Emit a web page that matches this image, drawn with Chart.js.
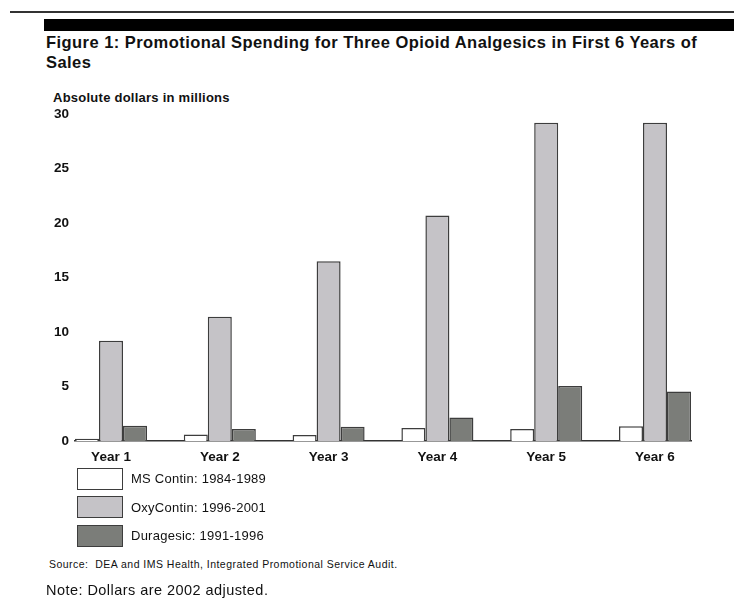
<!DOCTYPE html>
<html>
<head>
<meta charset="utf-8">
<script src="https://cdn.jsdelivr.net/npm/chart.js@4.4.1/dist/chart.umd.min.js"></script>
<style>
  body { margin: 0; background: #fff; font-family: "Liberation Sans", Arial, sans-serif; color: #111; }
  #page { position: relative; width: 734px; height: 602px; overflow: hidden; }
  .abs { position: absolute; white-space: nowrap; }
  #rule { left: 10px; top: 11px; width: 724px; height: 1.5px; background: #333; }
  #band { left: 44px; top: 19px; width: 690px; height: 12px; background: #000; }
  #title { left: 46px; top: 32px; font-weight: bold; font-size: 16.5px; letter-spacing: 0.45px; line-height: 20px; }
  #caption { left: 53px; top: 90px; font-weight: bold; font-size: 13px; letter-spacing: 0.25px; }
  #chartBox { left: 0; top: 100px; width: 734px; height: 380px; }
  #legend { left: 77px; top: 464.5px; }
  .item { display: flex; align-items: center; height: 28.5px; font-size: 13px; letter-spacing: 0.25px; }
  .swatch { width: 44px; height: 20px; border: 1.5px solid #3d3d3d; margin-right: 8px; }
  #source { left: 49px; top: 558px; font-size: 10.5px; letter-spacing: 0.47px; }
  #note { left: 46px; top: 582px; font-size: 14.5px; letter-spacing: 0.45px; }
</style>
</head>
<body>
<div id="page">
  <div class="abs" id="rule"></div>
  <div class="abs" id="band"></div>
  <div class="abs" id="title">Figure 1: Promotional Spending for Three Opioid Analgesics in First 6 Years of<br>Sales</div>
  <div class="abs" id="caption">Absolute dollars in millions</div>
  <div class="abs" id="chartBox"><canvas id="chart"></canvas></div>
  <div class="abs" id="legend"></div>
  <div class="abs" id="source">Source:&nbsp; DEA and IMS Health, Integrated Promotional Service Audit.</div>
  <div class="abs" id="note">Note: Dollars are 2002 adjusted.</div>
</div>
<script>
// categories and series
const yearLabels = ["Year 1", "Year 2", "Year 3", "Year 4", "Year 5", "Year 6"]
const seriesNames = ["MS Contin: 1984-1989", "OxyContin: 1996-2001", "Duragesic: 1991-1996"]
const msContin = [0.2, 0.6, 0.55, 1.2, 1.1, 1.35]
const oxyContin = [9.2, 11.4, 16.5, 20.7, 29.2, 29.2]
const duragesic = [1.4, 1.1, 1.3, 2.15, 5.05, 4.55]
const yTicks = [0, 5, 10, 15, 20, 25, 30]

const seriesColors = ["#ffffff", "#c5c3c7", "#7b7d79"]
const edgeColor = "#3d3d3d"

// bars sit on a linear x scale so the groups touch the ends of the axis line
function toPoints(values) {
  return values.map((v, i) => ({ x: i, y: v }))
}

const allSeries = [msContin, oxyContin, duragesic]
const tickFont = { family: "Liberation Sans", size: 13.5, weight: "bold" }

new Chart(document.getElementById("chart"), {
  type: "bar",
  data: {
    datasets: allSeries.map((values, i) => ({
      label: seriesNames[i],
      data: toPoints(values),
      backgroundColor: seriesColors[i],
      borderColor: edgeColor,
      borderWidth: 1.5,
      barPercentage: 1,
      categoryPercentage: 0.662
    }))
  },
  options: {
    responsive: true,
    maintainAspectRatio: false,
    animation: false,
    layout: { padding: { left: 30, right: 43, top: 13, bottom: 4 } },
    plugins: {
      legend: { display: false },
      tooltip: { enabled: false },
      title: { display: false }
    },
    scales: {
      x: {
        type: "linear",
        min: -0.331,
        max: 5.331,
        offset: false,
        grid: { display: false },
        border: { display: true, color: "#333", width: 1.5 },
        ticks: {
          stepSize: 1,
          includeBounds: false,
          autoSkip: false,
          maxRotation: 0,
          padding: 0,
          color: "#111",
          font: tickFont,
          callback: (v) => yearLabels[v] ?? ""
        },
        afterFit: (s) => { s.height = 35 }
      },
      y: {
        min: yTicks[0],
        max: yTicks[yTicks.length - 1],
        grid: { display: false, drawTicks: false },
        border: { display: false },
        afterBuildTicks: (s) => { s.ticks = yTicks.map((v) => ({ value: v })) },
        ticks: {
          padding: 6,
          color: "#111",
          font: tickFont
        },
        afterFit: (s) => { s.width = 45 }
      }
    }
  }
})

// legend, one row per series
const legend = document.getElementById("legend")
legend.innerHTML = seriesNames
  .map((name, i) => `
    <div class="item">
      <div class="swatch" style="background:${seriesColors[i]}"></div>
      <span>${name}</span>
    </div>`)
  .join("")
</script>
</body>
</html>
